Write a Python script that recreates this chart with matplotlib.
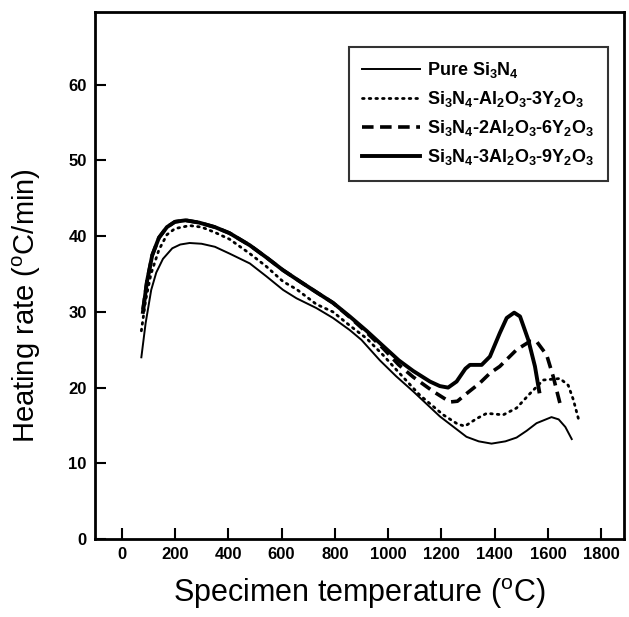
import matplotlib
matplotlib.use("Agg")
import matplotlib.pyplot as plt

# --- Data ---
pure_t = [74, 90, 111, 130, 155, 190, 220, 255, 300, 350, 405, 481, 543, 606, 656,
          731, 793, 856, 900, 969, 1030, 1094, 1194, 1294, 1340, 1388, 1440, 1482,
          1520, 1557, 1613, 1640, 1665, 1689]
pure_r = [24.0, 28.5, 32.9, 35.2, 37.0, 38.4, 38.9, 39.1, 39.0, 38.6, 37.7, 36.4, 34.7,
          32.9, 31.8, 30.5, 29.2, 27.6, 26.3, 23.6, 21.5, 19.5, 16.2, 13.5, 12.9, 12.6,
          12.9, 13.4, 14.3, 15.3, 16.1, 15.8, 14.8, 13.2]

a1_t = [74, 90, 110, 140, 170, 200, 255, 300, 350, 405, 481, 543, 606, 656, 731, 793,
        856, 919, 981, 1040, 1119, 1207, 1260, 1288, 1332, 1370, 1432, 1482, 1532,
        1582, 1645, 1676, 1695, 1714]
a1_r = [27.5, 31.5, 35.0, 38.2, 40.2, 41.0, 41.4, 41.2, 40.5, 39.6, 37.7, 36.0, 34.0,
        33.0, 31.0, 30.0, 28.2, 26.5, 24.3, 22.0, 19.0, 16.4, 15.2, 14.9, 15.9, 16.6,
        16.4, 17.3, 19.2, 21.0, 21.2, 20.3, 18.4, 15.9]

a2_t = [80, 95, 115, 140, 170, 200, 240, 290, 350, 405, 481, 543, 606, 670, 731, 793,
        856, 919, 981, 1040, 1094, 1169, 1232, 1260, 1294, 1344, 1382, 1419, 1482,
        1532, 1557, 1595, 1620, 1632, 1645]
a2_r = [30.3, 34.0, 37.5, 39.8, 41.2, 41.9, 42.1, 41.8, 41.2, 40.4, 38.8, 37.2, 35.5,
        34.0, 32.6, 31.2, 29.3, 27.3, 25.2, 23.0, 21.4, 19.5, 18.1, 18.2, 19.2, 20.6,
        21.9, 22.8, 25.0, 26.1, 26.1, 24.3, 21.4, 19.7, 17.9]

a3_t = [80, 95, 115, 140, 170, 200, 240, 290, 350, 405, 481, 543, 606, 670, 731, 793,
        856, 919, 981, 1040, 1094, 1157, 1194, 1225, 1257, 1290, 1307, 1351, 1382,
        1419, 1445, 1473, 1495, 1526, 1551, 1567]
a3_r = [30.0, 34.0, 37.5, 39.8, 41.2, 41.9, 42.1, 41.8, 41.2, 40.4, 38.8, 37.2, 35.5,
        34.0, 32.6, 31.2, 29.4, 27.5, 25.5, 23.6, 22.2, 20.8, 20.2, 20.0, 20.8, 22.5,
        23.0, 23.0, 24.1, 27.2, 29.2, 29.9, 29.4, 26.3, 22.8, 19.5]

labels = [r"Pure Si$_3$N$_4$",
          r"Si$_3$N$_4$-Al$_2$O$_3$-3Y$_2$O$_3$",
          r"Si$_3$N$_4$-2Al$_2$O$_3$-6Y$_2$O$_3$",
          r"Si$_3$N$_4$-3Al$_2$O$_3$-9Y$_2$O$_3$"]

xticks = [0, 200, 400, 600, 800, 1000, 1200, 1400, 1600, 1800]
yticks = [0, 10, 20, 30, 40, 50, 60]

plt.rcParams["font.family"] = ["Liberation Sans", "DejaVu Sans"]
plt.rcParams["mathtext.fontset"] = "custom"
plt.rcParams["mathtext.rm"] = "Liberation Sans:bold"
plt.rcParams["mathtext.default"] = "rm"

fig = plt.figure(figsize=(6.29, 6.17), dpi=100)
ax = fig.add_axes([0.151, 0.1264, 0.841, 0.854])

ax.plot(pure_t, pure_r, color="black", lw=1.4, label=labels[0])
ax.plot(a1_t, a1_r, color="black", lw=2.0, linestyle=(0, (0.6, 1.8)),
        dash_capstyle="round", label=labels[1])
ax.plot(a2_t, a2_r, color="black", lw=2.6, linestyle=(0, (3.2, 1.8)), label=labels[2])
ax.plot(a3_t, a3_r, color="black", lw=2.8, label=labels[3])

ax.set_xlim(-100, 1885)
ax.set_ylim(0, 69.6)
ax.set_xticks(xticks)
ax.set_yticks(yticks)
ax.tick_params(direction="in", length=8, width=1.5, labelsize=12, pad=6,
               top=False, right=False)
for lbl in ax.get_xticklabels() + ax.get_yticklabels():
    lbl.set_fontweight("bold")
for sp in ax.spines.values():
    sp.set_linewidth(2)

ax.set_xlabel(r"Specimen temperature ($^{\mathregular{o}}$C)", fontsize=22, labelpad=10)
ax.set_ylabel(r"Heating rate ($^{\mathregular{o}}$C/min)", fontsize=21)
ax.yaxis.set_label_coords(-0.098, 0.444)

leg = ax.legend(loc="upper right", bbox_to_anchor=(0.970, 0.934), borderaxespad=0,
                frameon=True, fancybox=False, edgecolor="black", handlelength=3.2,
                handletextpad=0.4, labelspacing=0.5, borderpad=0.75,
                prop={"size": 13, "weight": "bold"})
leg.get_frame().set_linewidth(1.5)

fig.savefig("out.png", dpi=100)
